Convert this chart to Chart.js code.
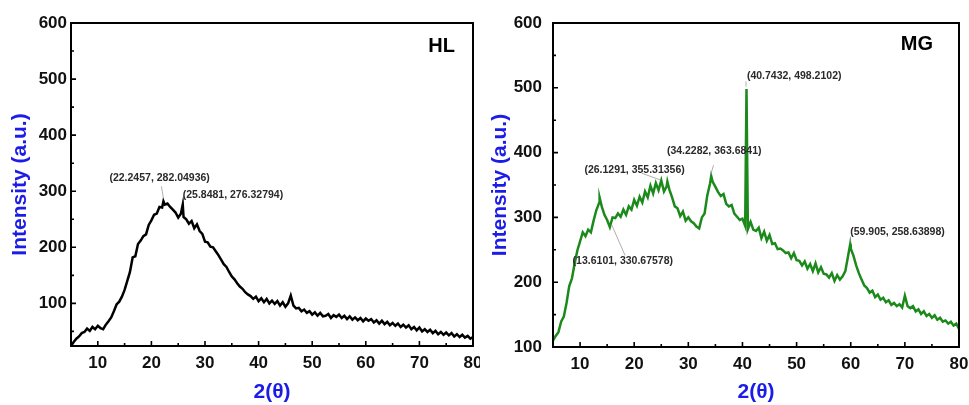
<!DOCTYPE html>
<html>
<head>
<meta charset="utf-8">
<title>XRD patterns HL / MG</title>
<script src="https://cdn.jsdelivr.net/npm/chart.js@4.4.1/dist/chart.umd.min.js"></script>
<style>
  html, body { margin: 0; padding: 0; background: #fff; }
  #wrap { position: relative; width: 969px; height: 405px; overflow: hidden; }
  #wrap canvas { position: absolute; top: 0; }
  #chartHL { left: 0; }
  #chartMG { left: 480px; }
</style>
</head>
<body>
<div id="wrap">
  <canvas id="chartHL" width="480" height="405"></canvas>
  <canvas id="chartMG" width="489" height="405"></canvas>
</div>
<script>
// ─── Datos de difracción (2θ en grados, intensidad en u.a.) ───────────────────
const scanAngles = [
  5, 5.5, 6, 6.5, 7, 7.5, 8, 8.5, 9, 9.5,
  10, 10.5, 11, 11.5, 12, 12.5, 13, 13.5, 14, 14.5,
  15, 15.5, 16, 16.5, 17, 17.5, 18, 18.5, 19, 19.5,
  20, 20.5, 21, 21.5, 22, 22.5, 23, 23.5, 24, 24.5,
  25, 25.5, 26, 26.5, 27, 27.5, 28, 28.5, 29, 29.5,
  30, 30.5, 31, 31.5, 32, 32.5, 33, 33.5, 34, 34.5,
  35, 35.5, 36, 36.5, 37, 37.5, 38, 38.5, 39, 39.5,
  40, 40.5, 41, 41.5, 42, 42.5, 43, 43.5, 44, 44.5,
  45, 45.5, 46, 46.5, 47, 47.5, 48, 48.5, 49, 49.5,
  50, 50.5, 51, 51.5, 52, 52.5, 53, 53.5, 54, 54.5,
  55, 55.5, 56, 56.5, 57, 57.5, 58, 58.5, 59, 59.5,
  60, 60.5, 61, 61.5, 62, 62.5, 63, 63.5, 64, 64.5,
  65, 65.5, 66, 66.5, 67, 67.5, 68, 68.5, 69, 69.5,
  70, 70.5, 71, 71.5, 72, 72.5, 73, 73.5, 74, 74.5,
  75, 75.5, 76, 76.5, 77, 77.5, 78, 78.5, 79, 79.5,
  80,
];

const hlCounts = [
  24, 31, 37, 41, 47, 49, 55, 51, 58, 54,
  60, 56, 54, 62, 68, 75, 86, 98, 103, 112,
  124, 140, 156, 182, 184, 206, 212, 220, 223, 240,
  248, 258, 260, 272, 271, 276, 278, 272, 267, 262,
  253, 260, 254, 250, 242, 247, 234, 241, 229, 224,
  210, 209, 201, 200, 193, 186, 178, 170, 165, 156,
  148, 143, 136, 130, 126, 120, 116, 113, 108, 112,
  104, 109, 102, 108, 100, 105, 99, 104, 96, 102,
  94, 100, 114, 96, 91, 92, 86, 89, 83, 86,
  80, 84, 78, 83, 77, 78, 81, 74, 79, 76,
  80, 74, 78, 72, 77, 71, 75, 70, 74, 68,
  73, 69, 72, 66, 70, 64, 69, 63, 67, 61,
  65, 60, 64, 58, 62, 57, 61, 54, 58, 52,
  57, 50, 54, 49, 53, 47, 51, 45, 49, 44,
  48, 43, 47, 41, 45, 40, 44, 39, 42, 37,
  40,
];

const mgCounts = [
  110, 117, 123, 139, 147, 168, 194, 206, 229, 249,
  263, 277, 271, 281, 277, 295, 311, 322, 317, 304,
  296, 285, 300, 299, 306, 301, 312, 304, 317, 312,
  327, 318, 332, 323, 340, 331, 349, 337, 353, 342,
  357, 340, 348, 343, 331, 317, 314, 302, 309, 295,
  300, 294, 291, 286, 283, 300, 306, 334, 352, 355,
  347, 339, 333, 336, 321, 317, 319, 306, 301, 296,
  298, 287, 282, 293, 281, 279, 284, 268, 278, 264,
  273, 259, 260, 251, 252, 249, 245, 246, 237, 245,
  234, 233, 226, 232, 221, 228, 217, 229, 215, 223,
  213, 212, 207, 214, 202, 211, 204, 209, 217, 240,
  252, 241, 226, 214, 204, 195, 191, 184, 187, 177,
  181, 173, 176, 169, 172, 165, 168, 163, 166, 161,
  179, 163, 160, 163, 155, 158, 151, 155, 148, 151,
  145, 149, 142, 145, 139, 141, 136, 139, 133, 136,
  128,
];

// Picos marcados (se dibujan en la curva y en la etiqueta)
const hlPeakAngles = [22.2457, 25.8481];
const hlPeakCounts = [282.04936, 276.32794];
const mgPeakAngles = [13.6101, 26.1291, 34.2282, 40.7432, 59.905];
const mgPeakCounts = [330.67578, 355.31356, 363.6841, 498.2102, 258.63898];

// Ticks de los ejes
const angleTicks = [10, 20, 30, 40, 50, 60, 70, 80];
const intensityTicks = [100, 200, 300, 400, 500, 600];

// ─── Estilo ───────────────────────────────────────────────────────────────────
const FONT = '"Liberation Sans", Arial, Helvetica, sans-serif';
const BLUE = '#1c1ce8';

// Marco, ticks hacia dentro, etiquetas de picos y nombre de muestra
const panelDecor = {
  id: 'panelDecor',
  afterDatasetsDraw(chart, args, opts) {
    const { ctx, chartArea: a, scales: { x, y } } = chart;
    const minors = (ticks, min) => {
      const out = [];
      const step = ticks[1] - ticks[0];
      if (ticks[0] - step / 2 >= min) out.push(ticks[0] - step / 2);
      for (let i = 0; i < ticks.length - 1; i++) out.push((ticks[i] + ticks[i + 1]) / 2);
      return out;
    };
    ctx.save();
    ctx.strokeStyle = '#000';
    ctx.lineWidth = 1.6;
    ctx.beginPath();
    angleTicks.forEach(v => { const px = x.getPixelForValue(v); ctx.moveTo(px, a.bottom); ctx.lineTo(px, a.bottom - 5); });
    minors(angleTicks, x.min).forEach(v => { const px = x.getPixelForValue(v); ctx.moveTo(px, a.bottom); ctx.lineTo(px, a.bottom - 3); });
    intensityTicks.forEach(v => { const py = y.getPixelForValue(v); ctx.moveTo(a.left, py); ctx.lineTo(a.left + 5, py); });
    minors(intensityTicks, y.min).forEach(v => { const py = y.getPixelForValue(v); ctx.moveTo(a.left, py); ctx.lineTo(a.left + 3, py); });
    ctx.stroke();

    ctx.lineWidth = 2;
    ctx.strokeRect(a.left, a.top, a.right - a.left, a.bottom - a.top);

    // etiquetas (x, y) de los picos
    ctx.font = `bold 10.5px ${FONT}`;
    ctx.textAlign = 'left';
    ctx.textBaseline = 'middle';
    opts.peakAngles.forEach((ang, i) => {
      const c = opts.callouts[i];
      const px = x.getPixelForValue(ang);
      const py = y.getPixelForValue(opts.peakCounts[i]);
      if (c.lead) {
        ctx.strokeStyle = '#9a9a9a';
        ctx.lineWidth = 0.8;
        ctx.beginPath();
        ctx.moveTo(px + c.lead[0], py + c.lead[1]);
        ctx.lineTo(px + c.lead[2], py + c.lead[3]);
        ctx.stroke();
      }
      ctx.fillStyle = '#2a2a2a';
      ctx.fillText(`(${ang}, ${opts.peakCounts[i]})`, px + c.dx, py + c.dy);
    });

    ctx.fillStyle = '#000';
    ctx.font = `bold 20px ${FONT}`;
    ctx.textAlign = 'right';
    ctx.textBaseline = 'alphabetic';
    ctx.fillText(opts.tag, a.right - opts.tagInset, a.top + opts.tagBaseline);
    ctx.restore();
  },
};

function buildPanel(canvasId, cfg) {
  const points = cfg.angles.map((ang, i) => ({ x: ang, y: cfg.counts[i] }));
  cfg.peakAngles.forEach((ang, i) => points.push({ x: ang, y: cfg.peakCounts[i] }));
  points.sort((p, q) => p.x - q.x);

  return new Chart(document.getElementById(canvasId), {
    type: 'line',
    data: {
      datasets: [{ data: points, borderColor: cfg.color, borderWidth: 2.5, pointRadius: 0, tension: 0, fill: false }],
    },
    options: {
      responsive: false, animation: false, events: [],
      layout: { padding: { top: 23, right: cfg.padRight, left: 0, bottom: 0 } },
      plugins: {
        legend: { display: false },
        tooltip: { enabled: false },
        panelDecor: {
          tag: cfg.tag, tagInset: cfg.tagInset, tagBaseline: cfg.tagBaseline,
          peakAngles: cfg.peakAngles, peakCounts: cfg.peakCounts, callouts: cfg.callouts,
        },
      },
      scales: {
        x: {
          type: 'linear', min: 5, max: 80,
          afterBuildTicks: s => { s.ticks = angleTicks.map(v => ({ value: v })); },
          afterFit: s => { s.height = cfg.xHeight; s.paddingLeft = 0; s.paddingRight = 0; },
          grid: { display: false, drawTicks: false },
          border: { display: false },
          ticks: { color: '#111', font: { family: FONT, size: 17, weight: 'bold' }, padding: 7, maxRotation: 0, autoSkip: false },
          title: { display: true, text: '2(θ)', color: BLUE, font: { family: FONT, size: 21, weight: 'bold' }, padding: 0 },
        },
        y: {
          type: 'linear', min: cfg.yMin, max: 600,
          afterBuildTicks: s => { s.ticks = intensityTicks.map(v => ({ value: v })); },
          afterFit: s => { s.width = cfg.yWidth; s.paddingTop = 0; s.paddingBottom = 0; },
          grid: { display: false, drawTicks: false },
          border: { display: false },
          ticks: { color: '#111', font: { family: FONT, size: 17, weight: 'bold' }, padding: cfg.yTickPad, autoSkip: false },
          title: { display: true, text: 'Intensity (a.u.)', color: BLUE, font: { family: FONT, size: 21, weight: 'bold' }, padding: { top: 8, bottom: 0 } },
        },
      },
    },
    plugins: [panelDecor],
  });
}

buildPanel('chartHL', {
  angles: scanAngles, counts: hlCounts,
  peakAngles: hlPeakAngles, peakCounts: hlPeakCounts,
  color: '#000', tag: 'HL', tagInset: 18, tagBaseline: 29,
  yMin: 24, yWidth: 71, yTickPad: 4, xHeight: 59, padRight: 7,
  callouts: [
    { dx: -54, dy: -23, lead: [-2, -15, 0, -3] },
    { dx: 0, dy: -9 },
  ],
});

buildPanel('chartMG', {
  angles: scanAngles, counts: mgCounts,
  peakAngles: mgPeakAngles, peakCounts: mgPeakCounts,
  color: '#1b8a1b', tag: 'MG', tagInset: 26, tagBaseline: 26.5,
  yMin: 100, yWidth: 73, yTickPad: 11, xHeight: 58, padRight: 10,
  callouts: [
    { dx: -27, dy: 64, lead: [12, 27, 25.5, 58] },
    { dx: -83, dy: -11.6, lead: [-25.5, -8.3, -7, -1.6] },
    { dx: -44.3, dy: -25, lead: [2.3, -11, -0.3, -2] },
    { dx: 0.4, dy: -13, lead: [-0.5, -7.5, -0.5, -2.5] },
    { dx: 0, dy: -11.8, lead: [0, -6, 0, -2] },
  ],
});
</script>
</body>
</html>
